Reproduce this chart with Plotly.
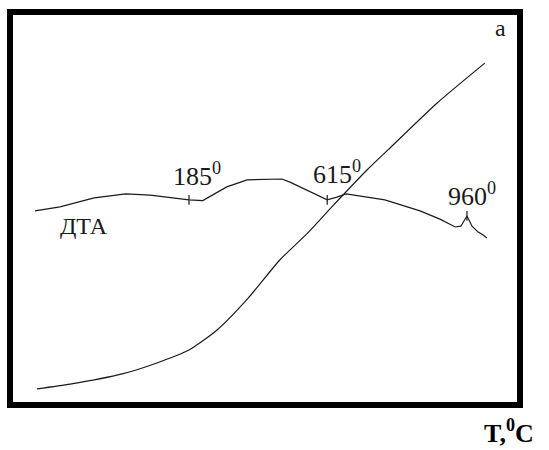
import plotly.graph_objects as go

# Heating curve (temperature trace "a"), chart units 0..100 on both axes
t_time = [5.3, 11.8, 22.0, 28.8, 35.1, 40.6, 46.7, 52.9, 58.4, 63.1, 70.0, 74.1, 83.7, 93.1]
t_temp = [4.1, 5.3, 7.9, 10.7, 14.0, 19.1, 27.2, 36.9, 43.8, 50.4, 59.8, 64.9, 76.8, 87.0]

# DTA curve
dta_time = [4.9, 9.8, 16.5, 22.7, 27.5, 35.1, 37.8, 42.5, 46.5, 53.3, 54.9, 58.2, 62.2,
            64.1, 65.9, 73.5, 80.4, 84.3, 87.3, 88.4, 89.6, 90.6, 91.8, 92.7, 93.5]
dta_sig = [49.4, 50.4, 52.7, 53.7, 53.4, 52.2, 52.0, 55.5, 57.3, 57.5, 56.7, 54.7, 52.2,
           52.9, 53.7, 52.2, 49.4, 47.3, 45.3, 45.5, 48.1, 45.5, 44.0, 43.3, 42.5]

# Thermal effects marked on the DTA curve
effect_labels = ["185", "615", "960"]
effect_time = [35.1, 62.2, 89.6]
effect_sig = [52.2, 52.2, 48.1]

serif = "Liberation Serif"
ink = "#1a1a1a"

fig = go.Figure()
fig.add_trace(go.Scatter(x=t_time, y=t_temp, mode="lines",
                         line=dict(color=ink, width=1.2, shape="spline", smoothing=0.6),
                         hoverinfo="skip"))
fig.add_trace(go.Scatter(x=dta_time, y=dta_sig, mode="lines",
                         line=dict(color=ink, width=1.2),
                         hoverinfo="skip"))
fig.add_trace(go.Scatter(x=effect_time, y=effect_sig, mode="markers",
                         marker=dict(symbol="line-ns", size=7,
                                     line=dict(color=ink, width=1.2)),
                         hoverinfo="skip"))

# effect temperature labels
label_x = [31.6, 59.0, 85.5]
label_y = [53.9, 54.5, 48.9]
for txt, lx, ly in zip(effect_labels, label_x, label_y):
    fig.add_annotation(x=lx, y=ly, xref="x", yref="y", text=f"{txt}<sup>0</sup>",
                       showarrow=False, xanchor="left", yanchor="bottom",
                       font=dict(family=serif, size=26, color=ink))

fig.add_annotation(x=9.4, y=41.8, xref="x", yref="y", text="ДТА", showarrow=False,
                   xanchor="left", yanchor="bottom",
                   font=dict(family=serif, size=24, color=ink))
fig.add_annotation(x=94.7, y=92.1, xref="x", yref="y", text="a", showarrow=False,
                   xanchor="left", yanchor="bottom",
                   font=dict(family=serif, size=24, color=ink))
fig.add_annotation(x=0.925, y=-0.115, xref="paper", yref="paper",
                   text="<b>T,<sup>0</sup>C</b>", showarrow=False,
                   xanchor="left", yanchor="bottom",
                   font=dict(family=serif, size=26, color="#000"))

# heavy frame round the plot area
fig.add_shape(type="rect", xref="paper", yref="paper", x0=0, y0=0, x1=1, y1=1,
              line=dict(color="#000", width=6))

fig.update_xaxes(range=[0, 100], visible=False)
fig.update_yaxes(range=[0, 100], visible=False)
fig.update_layout(width=549, height=450, showlegend=False,
                  margin=dict(l=10, r=29, t=12, b=45),
                  paper_bgcolor="white", plot_bgcolor="white")

fig.write_html("out.html", config={"displayModeBar": False})
